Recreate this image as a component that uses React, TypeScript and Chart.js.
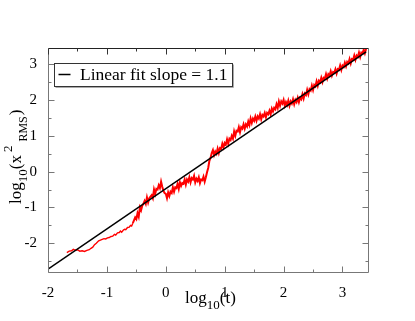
import React, { useEffect, useRef } from 'react';
import { Chart, registerables } from 'chart.js';

Chart.register(...registerables);

// ---- data ----
const fitX = [-2, 3.4];
const fitY = [-2.72, 3.34];

const redX = [
  -1.68, -1.64, -1.60, -1.57, -1.54, -1.50, -1.46, -1.42, -1.38, -1.34,
  -1.30, -1.27, -1.24, -1.21, -1.18, -1.14, -1.11, -1.08, -1.05, -1.02,
  -0.99, -0.96, -0.93, -0.90, -0.87, -0.85, -0.82, -0.79, -0.77, -0.75,
  -0.72, -0.70, -0.68, -0.65, -0.62, -0.60, -0.58, -0.56,
  -0.54, -0.52, -0.50, -0.48, -0.46, -0.44, -0.42, -0.40, -0.38, -0.36,
  -0.34, -0.32, -0.30, -0.28, -0.26, -0.24, -0.22, -0.20, -0.18, -0.16,
  -0.14, -0.12, -0.10, -0.08, -0.06, -0.04, -0.02, 0.00, 0.02, 0.04,
  0.06, 0.08, 0.10, 0.12, 0.14, 0.16, 0.18, 0.20, 0.22, 0.24,
  0.26, 0.28, 0.30, 0.32, 0.34, 0.36, 0.38, 0.40, 0.42, 0.44,
  0.46, 0.48, 0.50, 0.52, 0.54, 0.56, 0.58, 0.60, 0.62, 0.64,
  0.66, 0.68, 0.70, 0.72, 0.74, 0.76, 0.78, 0.80, 0.82, 0.84,
  0.86, 0.88, 0.90, 0.92, 0.94, 0.96, 0.98, 1.00, 1.02, 1.04,
  1.06, 1.08, 1.10, 1.12, 1.14, 1.16, 1.18, 1.20, 1.22, 1.24,
  1.26, 1.28, 1.30, 1.32, 1.34, 1.36, 1.38, 1.40, 1.42, 1.44,
  1.46, 1.48, 1.50, 1.52, 1.54, 1.56, 1.58, 1.60, 1.62, 1.64,
  1.66, 1.68, 1.70, 1.72, 1.74, 1.76, 1.78, 1.80, 1.82, 1.84,
  1.86, 1.88, 1.90, 1.92, 1.94, 1.96, 1.98, 2.00, 2.02, 2.04,
  2.06, 2.08, 2.10, 2.12, 2.14, 2.16, 2.18, 2.20, 2.22, 2.24,
  2.26, 2.28, 2.30, 2.32, 2.34, 2.36, 2.38, 2.40, 2.42, 2.44,
  2.46, 2.48, 2.50, 2.52, 2.54, 2.56, 2.58, 2.60, 2.62, 2.64,
  2.66, 2.68, 2.70, 2.72, 2.74, 2.76, 2.78, 2.80, 2.82, 2.84,
  2.86, 2.88, 2.90, 2.92, 2.94, 2.96, 2.98, 3.00, 3.02, 3.04,
  3.06, 3.08, 3.10, 3.12, 3.14, 3.16, 3.18, 3.20, 3.22, 3.24,
  3.26, 3.28, 3.30, 3.32, 3.34, 3.36, 3.38, 3.40,
];
const redY = [
  -2.26, -2.22, -2.21, -2.17, -2.19, -2.18, -2.22, -2.21, -2.23, -2.20,
  -2.18, -2.14, -2.11, -2.04, -2.00, -1.93, -1.91, -1.89, -1.87, -1.88,
  -1.85, -1.84, -1.81, -1.80, -1.75, -1.77, -1.71, -1.70, -1.66, -1.69,
  -1.63, -1.61, -1.62, -1.56, -1.55, -1.50, -1.52, -1.44,
  -1.36, -1.28, -1.33, -1.16, -1.26, -1.00, -1.08, -0.95, -0.90, -0.82,
  -0.90, -0.72, -0.86, -0.74, -0.70, -0.66, -0.74, -0.50, -0.62, -0.48,
  -0.50, -0.38, -0.46, -0.28, -0.42, -0.54, -0.60, -0.62, -0.74, -0.58,
  -0.68, -0.56, -0.60, -0.44, -0.56, -0.44, -0.46, -0.34, -0.48, -0.30,
  -0.40, -0.32, -0.34, -0.22, -0.36, -0.22, -0.28, -0.16, -0.30, -0.18,
  -0.22, -0.12, -0.30, -0.20, -0.26, -0.16, -0.32, -0.22, -0.24, -0.14,
  -0.28, -0.16, -0.02, 0.10, 0.30, 0.38, 0.52, 0.60, 0.46, 0.56,
  0.50, 0.64, 0.52, 0.66, 0.64, 0.78, 0.68, 0.80, 0.76, 0.90,
  0.78, 0.92, 0.88, 1.00, 0.92, 1.12, 1.00, 1.14, 1.12, 1.24,
  1.10, 1.24, 1.20, 1.32, 1.20, 1.32, 1.26, 1.40, 1.30, 1.48,
  1.36, 1.48, 1.42, 1.54, 1.42, 1.54, 1.48, 1.60, 1.46, 1.58,
  1.54, 1.64, 1.52, 1.64, 1.60, 1.70, 1.60, 1.76, 1.68, 1.78,
  1.74, 1.88, 1.78, 1.96, 1.84, 1.96, 1.90, 2.00, 1.84, 1.94,
  1.86, 1.98, 1.84, 1.96, 1.90, 2.02, 1.88, 2.00, 1.94, 2.06,
  1.94, 2.06, 2.02, 2.16, 2.04, 2.18, 2.14, 2.28, 2.16, 2.30,
  2.26, 2.40, 2.28, 2.42, 2.38, 2.52, 2.40, 2.54, 2.50, 2.62,
  2.50, 2.62, 2.60, 2.72, 2.60, 2.72, 2.68, 2.80, 2.68, 2.78,
  2.76, 2.86, 2.74, 2.86, 2.84, 2.96, 2.84, 2.96, 2.92, 3.04,
  2.94, 3.06, 3.02, 3.14, 3.02, 3.14, 3.12, 3.24, 3.12, 3.24,
  3.20, 3.32, 3.20, 3.32, 3.30, 3.40, 3.30, 3.42,
];
// x below which the measured curve is smooth (thin stroke)
const thinUntilX = -0.56;

const xMajor = [-2, -1, 0, 1, 2, 3];
const xMinor = [-1.5, -0.5, 0.5, 1.5, 2.5];
const yMajor = [-2, -1, 0, 1, 2, 3];
const yMinor = [-2.5, -1.5, -0.5, 0.5, 1.5, 2.5];
const legendLabel = 'Linear fit slope = 1.1';

const SERIF = '"Liberation Serif", "Times New Roman", "DejaVu Serif", serif';

const decorPlugin = {
  id: 'decor',
  afterDraw(chart: any) {
    const { ctx, chartArea: a, scales } = chart;
    const xs = scales.x;
    const ys = scales.y;
    const L = Math.round(a.left) + 0.5;
    const R = Math.round(a.right) - 0.5;
    const T = Math.round(a.top) + 0.5;
    const B = Math.round(a.bottom) - 0.5;
    ctx.save();
    ctx.lineWidth = 1;
    // frame
    ctx.strokeStyle = '#777';
    ctx.beginPath();
    ctx.moveTo(L, T); ctx.lineTo(L, B); ctx.lineTo(R, B); ctx.lineTo(R, T);
    ctx.stroke();
    ctx.strokeStyle = '#222';
    ctx.beginPath();
    ctx.moveTo(L, T); ctx.lineTo(R, T);
    ctx.stroke();
    // ticks (inward, all four sides)
    const xt = (vals: number[], len: number) => {
      vals.forEach((v) => {
        const p = Math.round(xs.getPixelForValue(v)) + 0.5;
        ctx.strokeStyle = '#777';
        ctx.beginPath(); ctx.moveTo(p, B); ctx.lineTo(p, B - len); ctx.stroke();
        ctx.strokeStyle = '#333';
        ctx.beginPath(); ctx.moveTo(p, T); ctx.lineTo(p, T + len); ctx.stroke();
      });
    };
    const yt = (vals: number[], len: number) => {
      vals.forEach((v) => {
        const p = Math.round(ys.getPixelForValue(v)) + 0.5;
        ctx.strokeStyle = '#777';
        ctx.beginPath(); ctx.moveTo(L, p); ctx.lineTo(L + len, p); ctx.stroke();
        ctx.beginPath(); ctx.moveTo(R, p); ctx.lineTo(R - len, p); ctx.stroke();
      });
    };
    xt(xMajor, 6); xt(xMinor, 3);
    yt(yMajor, 6); yt(yMinor, 3);

    // legend box
    const bx = a.left + 6.5, by = a.top + 15.5, bw = 178, bh = 23;
    ctx.strokeStyle = '#aaa';
    ctx.beginPath();
    ctx.moveTo(bx + bw + 1, by + 1); ctx.lineTo(bx + bw + 1, by + bh + 1); ctx.lineTo(bx + 1, by + bh + 1);
    ctx.stroke();
    ctx.strokeStyle = '#333';
    ctx.strokeRect(bx, by, bw, bh);
    ctx.strokeStyle = '#000';
    ctx.lineWidth = 1.5;
    ctx.beginPath(); ctx.moveTo(bx + 4, by + 11); ctx.lineTo(bx + 16, by + 11); ctx.stroke();
    ctx.fillStyle = '#000';
    ctx.font = `17.5px ${SERIF}`;
    ctx.textBaseline = 'alphabetic';
    ctx.textAlign = 'left';
    ctx.fillText(legendLabel, bx + 25.5, by + 16.5);

    // x title: log10(t)
    const cx = (a.left + a.right) / 2;
    ctx.font = `17px ${SERIF}`;
    const wLog = ctx.measureText('log').width;
    const wT = ctx.measureText('(t)').width;
    ctx.font = `13px ${SERIF}`;
    const w10 = ctx.measureText('10').width;
    const x0 = cx - (wLog + w10 + wT) / 2 + 2;
    const yb = 303;
    ctx.font = `17px ${SERIF}`;
    ctx.fillText('log', x0, yb);
    ctx.font = `13px ${SERIF}`;
    ctx.fillText('10', x0 + wLog, yb + 6);
    ctx.font = `17px ${SERIF}`;
    ctx.fillText('(t)', x0 + wLog + w10, yb);

    // y title: log10(x^2_RMS), rotated
    ctx.save();
    ctx.translate(21, 204);
    ctx.rotate(-Math.PI / 2);
    let p = 0;
    ctx.font = `17px ${SERIF}`;
    ctx.fillText('log', p, 0); p += ctx.measureText('log').width;
    ctx.font = `13px ${SERIF}`;
    ctx.fillText('10', p, 6); p += ctx.measureText('10').width;
    ctx.font = `17px ${SERIF}`;
    ctx.fillText('(x', p, 0); p += ctx.measureText('(x').width + 3;
    ctx.font = `13px ${SERIF}`;
    ctx.fillText('2', p, -9); p += ctx.measureText('2').width + 4;
    ctx.font = `12px ${SERIF}`;
    ctx.fillText('RMS', p, 6); p += ctx.measureText('RMS').width + 1;
    ctx.font = `17px ${SERIF}`;
    ctx.fillText(')', p, 0);
    ctx.restore();

    ctx.restore();
  },
};

export default function App() {
  const ref = useRef<HTMLCanvasElement | null>(null);
  useEffect(() => {
    if (!ref.current) return;
    const chart = new Chart(ref.current, {
      type: 'scatter',
      data: {
        datasets: [
          {
            label: legendLabel,
            data: fitX.map((x, i) => ({ x, y: fitY[i] })),
            showLine: true,
            borderColor: '#000',
            backgroundColor: '#000',
            borderWidth: 1.5,
            pointRadius: 0,
          },
          {
            label: 'data',
            data: redX.map((x, i) => ({ x, y: redY[i] })),
            showLine: true,
            borderColor: '#ff0000',
            backgroundColor: '#ff0000',
            borderWidth: 2,
            pointRadius: 0,
            segment: {
              borderWidth: (c: any) => (c.p1.parsed.x <= thinUntilX ? 1.4 : 2),
            },
          },
        ],
      },
      options: {
        animation: false,
        responsive: false,
        devicePixelRatio: 1,
        layout: { padding: { left: 0, top: 48, right: 46, bottom: 0 } },
        plugins: { legend: { display: false }, tooltip: { enabled: false } },
        scales: {
          x: {
            type: 'linear',
            min: -2,
            max: 3.45,
            grid: { display: false },
            border: { display: false },
            ticks: {
              includeBounds: false,
              stepSize: 1,
              padding: 3,
              color: '#000',
              font: { family: SERIF, size: 15 },
              maxRotation: 0,
            },
            afterBuildTicks: (s: any) => { s.ticks = xMajor.map((v) => ({ value: v })); },
            afterFit: (s: any) => { s.height = 48; },
          },
          y: {
            type: 'linear',
            min: -2.83,
            max: 3.45,
            grid: { display: false },
            border: { display: false },
            ticks: {
              includeBounds: false,
              stepSize: 1,
              padding: 3,
              color: '#000',
              font: { family: SERIF, size: 15 },
            },
            afterBuildTicks: (s: any) => { s.ticks = yMajor.map((v) => ({ value: v })); },
            afterFit: (s: any) => { s.width = 48; },
          },
        },
      },
      plugins: [decorPlugin],
    } as any);
    return () => chart.destroy();
  }, []);
  return (
    <div style={{ position: 'fixed', left: 0, top: 0, width: 415, height: 321, background: '#fff' }}>
      <canvas ref={ref} width={415} height={321} style={{ display: 'block', width: 415, height: 321 }} />
    </div>
  );
}
